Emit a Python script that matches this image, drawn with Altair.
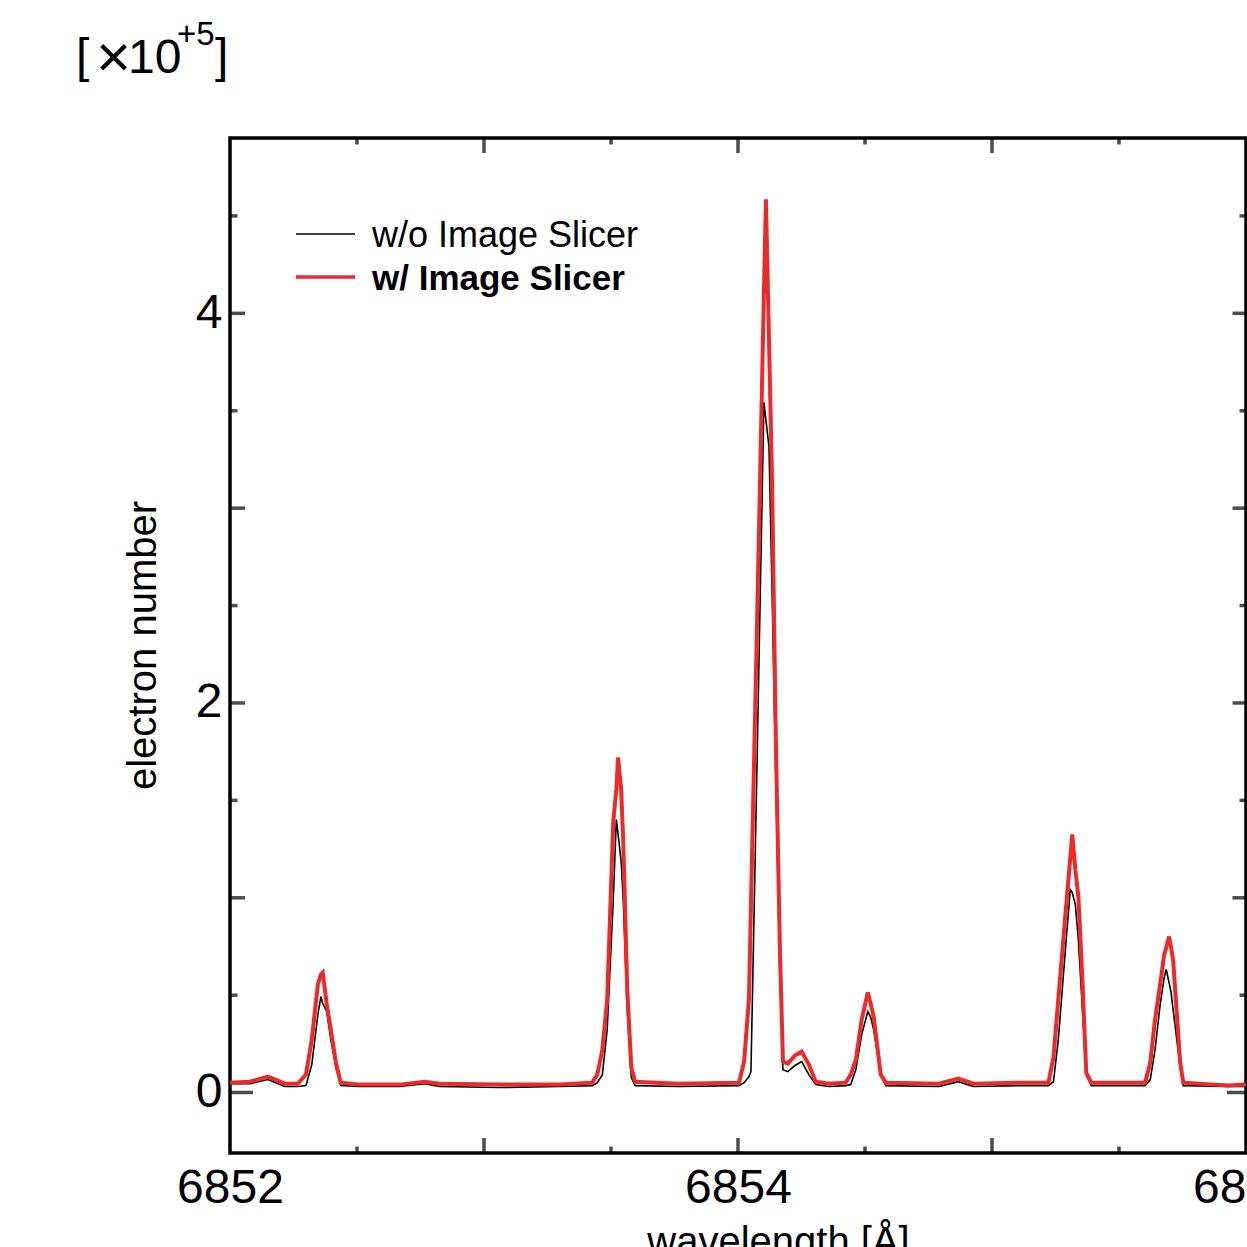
import altair as alt
import pandas as pd

# ---------------- data ----------------
wavelength = [
    6852.000, 6852.079, 6852.149, 6852.216, 6852.267, 6852.299, 6852.322, 6852.346,
    6852.358, 6852.365, 6852.381, 6852.397, 6852.417, 6852.436, 6852.511, 6852.668,
    6852.766, 6852.825, 6853.061, 6853.297, 6853.426, 6853.446, 6853.466, 6853.485,
    6853.509, 6853.521, 6853.528, 6853.540, 6853.548, 6853.564, 6853.580, 6853.595,
    6853.768, 6854.004, 6854.024, 6854.043, 6854.051, 6854.075, 6854.102, 6854.110,
    6854.122, 6854.134, 6854.149, 6854.165, 6854.177, 6854.196, 6854.224, 6854.251,
    6854.279, 6854.306, 6854.358, 6854.424, 6854.444, 6854.464, 6854.487, 6854.511,
    6854.523, 6854.534, 6854.562, 6854.582, 6854.790, 6854.868, 6854.927, 6855.104,
    6855.222, 6855.242, 6855.261, 6855.289, 6855.308, 6855.316, 6855.328, 6855.340,
    6855.356, 6855.371, 6855.391, 6855.536, 6855.603, 6855.623, 6855.642, 6855.662,
    6855.678, 6855.686, 6855.697, 6855.705, 6855.713, 6855.741, 6855.753, 6855.929,
    6856.000,
]

wo_slicer = [
    0.046, 0.046, 0.067, 0.031, 0.031, 0.036, 0.144, 0.401,
    0.493, 0.457, 0.416, 0.272, 0.128, 0.036, 0.031, 0.031,
    0.046, 0.031, 0.026, 0.031, 0.036, 0.051, 0.092, 0.324,
    0.991, 1.402, 1.325, 1.186, 0.991, 0.426, 0.077, 0.036,
    0.031, 0.036, 0.051, 0.082, 0.108, 1.695, 3.543, 3.451,
    3.317, 2.578, 1.607, 0.606, 0.118, 0.108, 0.139, 0.159,
    0.092, 0.041, 0.031, 0.036, 0.041, 0.118, 0.298, 0.416,
    0.385, 0.324, 0.092, 0.036, 0.031, 0.056, 0.031, 0.036,
    0.036, 0.056, 0.272, 0.734, 1.042, 1.027, 0.965, 0.786,
    0.426, 0.092, 0.036, 0.036, 0.036, 0.067, 0.221, 0.452,
    0.591, 0.632, 0.565, 0.514, 0.426, 0.128, 0.036, 0.031,
    0.031,
]

w_slicer = [
    0.051, 0.056, 0.082, 0.046, 0.046, 0.092, 0.272, 0.555,
    0.606, 0.616, 0.452, 0.324, 0.154, 0.051, 0.041, 0.041,
    0.056, 0.046, 0.041, 0.041, 0.051, 0.092, 0.221, 0.478,
    1.392, 1.556, 1.720, 1.556, 1.299, 0.529, 0.128, 0.056,
    0.046, 0.051, 0.159, 0.478, 0.960, 2.408, 4.103, 4.585,
    3.867, 3.148, 1.813, 0.734, 0.159, 0.149, 0.190, 0.211,
    0.144, 0.056, 0.046, 0.051, 0.092, 0.169, 0.375, 0.514,
    0.452, 0.390, 0.092, 0.051, 0.046, 0.072, 0.046, 0.051,
    0.051, 0.180, 0.478, 0.914, 1.202, 1.325, 1.145, 1.006,
    0.580, 0.103, 0.051, 0.051, 0.051, 0.154, 0.375, 0.555,
    0.709, 0.745, 0.801, 0.745, 0.683, 0.154, 0.051, 0.036,
    0.041,
]

series_names = ["w/o Image Slicer", "w/ Image Slicer"]

x_label_values = [6852, 6854, 6856]
y_label_values = [0, 2, 4]
x_major_ticks = [6853, 6854, 6855]
x_minor_ticks = [6852.5, 6853.5, 6854.5, 6855.5]
y_zero_tick = [0]
y_major_ticks = [1, 2, 3, 4]
y_minor_ticks = [0.5, 1.5, 2.5, 3.5, 4.5]

# ---------------- styling ----------------
W, H = 1016, 1015
X_DOMAIN = [6852, 6856]
Y_DOMAIN = [-0.31, 4.9]
FONT = "Liberation Sans"
RED = "#ec2a2a"

xs = alt.Scale(domain=X_DOMAIN, nice=False, zero=False)
ys = alt.Scale(domain=Y_DOMAIN, nice=False, zero=False)

x_axis = alt.Axis(
    values=x_label_values, format="d", title="wavelength [Å]",
    ticks=False, domain=False, grid=False,
    labelFont=FONT, labelFontSize=48, labelColor="black", labelPadding=11,
    labelFlush=False, labelOverlap=False,
    titleFont=FONT, titleFontSize=40, titleFontWeight="normal", titleColor="black",
    titleX=548, titleY=101, titleBaseline="alphabetic", titleAlign="center",
)
y_axis = alt.Axis(
    values=y_label_values, format="d", title="electron number",
    ticks=False, domain=False, grid=False,
    labelFont=FONT, labelFontSize=48, labelColor="black", labelPadding=8,
    labelFlush=False, labelOverlap=False,
    titleFont=FONT, titleFontSize=40, titleFontWeight="normal", titleColor="black",
    titleAngle=270, titleX=-75, titleY=507, titleBaseline="alphabetic", titleAlign="center",
)


def X(field):
    return alt.X(f"{field}:Q", scale=xs, axis=x_axis)


def Y(field):
    return alt.Y(f"{field}:Q", scale=ys, axis=y_axis)


df_wo = pd.DataFrame({"wavelength": wavelength, "value": wo_slicer, "series": series_names[0]})
df_w = pd.DataFrame({"wavelength": wavelength, "value": w_slicer, "series": series_names[1]})

line_wo = alt.Chart(df_wo).mark_line(color="black", strokeWidth=1.6).encode(
    x=X("wavelength"), y=Y("value"))
line_w = alt.Chart(df_w).mark_line(color=RED, strokeWidth=4).encode(
    x=X("wavelength"), y=Y("value"))

# inward ticks (size is twice the visible length; half is clipped)
df_xt = pd.DataFrame({
    "pos": x_major_ticks + x_minor_ticks,
    "len": [30] * len(x_major_ticks) + [13] * len(x_minor_ticks),
})
df_yl = pd.DataFrame({
    "pos": y_zero_tick + y_major_ticks + y_minor_ticks,
    "len": [46] * len(y_zero_tick) + [30] * len(y_major_ticks) + [15] * len(y_minor_ticks),
})
df_yr = pd.DataFrame({
    "pos": y_zero_tick + y_major_ticks + y_minor_ticks,
    "len": [38] * len(y_zero_tick) + [27] * len(y_major_ticks) + [13] * len(y_minor_ticks),
})

tick_v = dict(orient="vertical", thickness=3.5, color="black", clip=True)
tick_h = dict(orient="horizontal", thickness=3.5, color="black", clip=True)

ticks_bottom = alt.Chart(df_xt).mark_tick(**tick_v).encode(
    x=X("pos"), y=alt.value(H), size=alt.Size("len:Q", scale=None))
ticks_top = alt.Chart(df_xt).mark_tick(**tick_v).encode(
    x=X("pos"), y=alt.value(0), size=alt.Size("len:Q", scale=None))
ticks_left = alt.Chart(df_yl).mark_tick(**tick_h).encode(
    y=Y("pos"), x=alt.value(0), size=alt.Size("len:Q", scale=None))
ticks_right = alt.Chart(df_yr).mark_tick(**tick_h).encode(
    y=Y("pos"), x=alt.value(W), size=alt.Size("len:Q", scale=None))

# legend
df_leg0 = pd.DataFrame({"series": [series_names[0]]})
df_leg1 = pd.DataFrame({"series": [series_names[1]]})
leg_rule0 = alt.Chart(df_leg0).mark_rule(color="black", strokeWidth=1.5).encode(
    x=alt.value(66), x2=alt.value(125), y=alt.value(96))
leg_rule1 = alt.Chart(df_leg1).mark_rule(color=RED, strokeWidth=3.5).encode(
    x=alt.value(66), x2=alt.value(125), y=alt.value(139))
leg_text0 = alt.Chart(df_leg0).mark_text(
    align="left", baseline="alphabetic", font=FONT, fontSize=36, color="black").encode(
    x=alt.value(142), y=alt.value(109), text="series:N")
leg_text1 = alt.Chart(df_leg1).mark_text(
    align="left", baseline="alphabetic", font=FONT, fontSize=35, fontWeight="bold",
    color="black").encode(
    x=alt.value(142), y=alt.value(152), text="series:N")

# multiplier annotation [x10^+5]
one = pd.DataFrame({"k": [0]})
ann_style = dict(align="left", baseline="alphabetic", font=FONT, color="black")
ann_l = alt.Chart(one).mark_text(fontSize=48, **ann_style).encode(
    x=alt.value(-154), y=alt.value(-66), text=alt.value("["))
ann_times = alt.Chart(one).mark_text(fontSize=60, **ann_style).encode(
    x=alt.value(-134), y=alt.value(-61), text=alt.value("×"))
ann_10 = alt.Chart(one).mark_text(fontSize=48, **ann_style).encode(
    x=alt.value(-102), y=alt.value(-65), text=alt.value("10"))
ann_exp = alt.Chart(one).mark_text(fontSize=33, **ann_style).encode(
    x=alt.value(-53), y=alt.value(-93), text=alt.value("+5"))
ann_r = alt.Chart(one).mark_text(fontSize=48, **ann_style).encode(
    x=alt.value(-15), y=alt.value(-66), text=alt.value("]"))

chart = alt.layer(
    line_wo, line_w,
    ticks_bottom, ticks_top, ticks_left, ticks_right,
    leg_rule0, leg_rule1, leg_text0, leg_text1,
    ann_l, ann_times, ann_10, ann_exp, ann_r,
).properties(
    width=W, height=H,
    autosize=alt.AutoSizeParams(type="none"),
    padding={"left": 230, "top": 138, "right": 1, "bottom": 94},
    background="white",
).configure_view(stroke="black", strokeWidth=3.5)

chart.save("out.html", embed_options={"renderer": "svg", "actions": False})
